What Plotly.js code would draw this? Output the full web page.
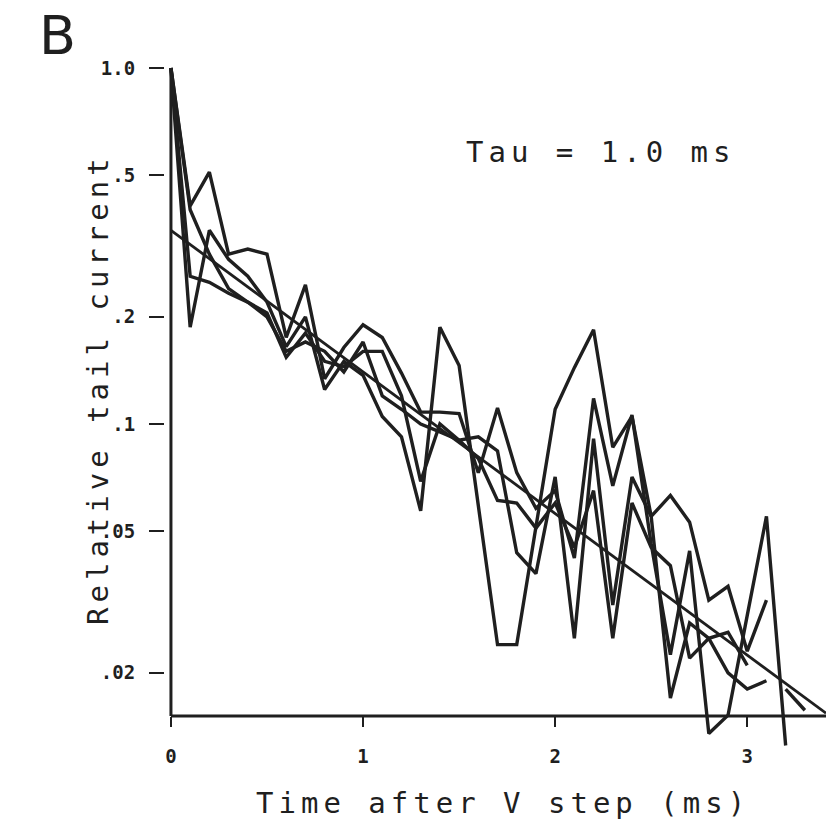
<!DOCTYPE html>
<html><head><meta charset="utf-8">
<script src="https://cdn.plot.ly/plotly-3.0.1.min.js"></script>
<style>html,body{margin:0;padding:0;background:#fff}</style>
</head><body>
<div id="chart" style="width:826px;height:828px"></div>
<script>
// ---- data ----
const timeMs = [0,0.1,0.2,0.3,0.4,0.5,0.6,0.7,0.8,0.9,1.0,1.1,1.2,1.3,1.4,1.5,1.6,1.7,1.8,1.9,2.0,2.1,2.2,2.3,2.4,2.5,2.6,2.7,2.8,2.9,3.0,3.1,3.2,3.3];
const sweep1 = [1.0,0.187,0.35,0.29,0.26,0.22,0.165,0.20,0.125,0.15,0.137,0.105,0.092,0.057,0.187,0.146,0.059,0.024,0.024,0.051,0.11,0.144,0.184,0.086,0.105,0.055,0.063,0.053,0.032,0.035,0.023,0.032];
const sweep2 = [1.0,0.41,0.51,0.30,0.31,0.30,0.175,0.246,0.134,0.164,0.19,0.175,0.139,0.108,0.108,0.107,0.073,0.111,0.073,0.058,0.065,0.042,0.118,0.067,0.106,0.046,0.0225,0.044,0.0135,0.0152,0.029,0.055,0.0125];
const sweep3 = [1.0,0.40,0.30,0.24,0.22,0.205,0.154,0.18,0.15,0.145,0.16,0.16,0.12,0.069,0.10,0.09,0.092,0.084,0.0435,0.038,0.071,0.025,0.091,0.031,0.071,0.055,0.017,0.0276,0.025,0.02,0.018,0.019];
const sweep4 = [1.0,0.26,0.25,0.233,0.22,0.20,0.16,0.17,0.16,0.14,0.17,0.12,0.11,0.10,0.095,0.09,0.08,0.061,0.06,0.051,0.06,0.045,0.065,0.025,0.06,0.045,0.04,0.022,0.025,0.026,0.021,null,0.018,0.0157];
const fitTime = [0, 3.41];
const fitCurrent = [0.35, 0.0154];
const yTickVals = [1, 0.5, 0.2, 0.1, 0.05, 0.02];
const yTickText = ['1.0', '.5', '.2', '.1', '.05', '.02'];
const xTickVals = [0, 1, 2, 3];
const xTickText = ['0', '1', '2', '3'];

// ---- layout geometry ----
const W = 826, H = 828;
const L = 165, R = 0, T = 62, B = 78;
const plotW = W - L - R, plotH = H - T - B;
const px = v => (v - L) / plotW;
const py = v => (H - B - v) / plotH;
const ink = '#1f1f1f';
const mono = 'DejaVu Sans Mono, monospace';

const sweeps = [sweep1, sweep2, sweep3, sweep4];
const traces = sweeps.map(s => ({
  x: timeMs.slice(0, s.length), y: s, type: 'scatter', mode: 'lines',
  line: {color: ink, width: 3.4}, connectgaps: false, hoverinfo: 'skip'
}));
traces.push({x: fitTime, y: fitCurrent, type: 'scatter', mode: 'lines',
  line: {color: ink, width: 2.8}, hoverinfo: 'skip'});

const axisPos = py(716);
const layout = {
  width: W, height: H, showlegend: false,
  margin: {l: L, r: R, t: T, b: B},
  paper_bgcolor: '#fff', plot_bgcolor: '#fff',
  xaxis: {range: [-0.031, 3.41], anchor: 'free', position: axisPos,
    showgrid: false, zeroline: false, showline: false,
    tickvals: xTickVals, ticktext: xTickText, ticks: 'outside', ticklen: 10, tickwidth: 2, tickcolor: ink,
    ticklabelstandoff: 13,
    tickfont: {family: mono, size: 19, color: ink, weight: 'bold'}},
  xaxis2: {range: [-0.031, 3.41], overlaying: 'x', anchor: 'free', position: axisPos,
    showgrid: false, zeroline: false, showline: false, showticklabels: false,
    tickvals: xTickVals, ticks: 'inside', ticklen: 7, tickwidth: 2, tickcolor: ink},
  yaxis: {type: 'log', range: [-(750 - 68) / 356, (68 - 62) / 356],
    showgrid: false, zeroline: false, showline: false,
    tickvals: yTickVals, ticktext: yTickText, ticks: 'outside', ticklen: 15, tickwidth: 2, tickcolor: ink,
    ticklabelstandoff: 10,
    tickfont: {family: mono, size: 19, color: ink, weight: 'bold'}},
  shapes: [
    {type: 'line', xref: 'x', yref: 'paper', x0: 0, x1: 0, y0: axisPos, y1: py(68), line: {color: ink, width: 3}},
    {type: 'line', xref: 'x', yref: 'paper', x0: 0, x1: 3.41, y0: axisPos, y1: axisPos, line: {color: ink, width: 3}}
  ],
  annotations: [
    {text: 'B', xref: 'paper', yref: 'paper', x: px(57), y: py(35), xanchor: 'center', yanchor: 'middle',
     showarrow: false, font: {family: 'DejaVu Sans, sans-serif', size: 54, color: ink}},
    {text: '<span style="letter-spacing:5px">Tau = 1.0 ms</span>', xref: 'paper', yref: 'paper', x: px(601), y: py(152),
     xanchor: 'center', yanchor: 'middle', showarrow: false, font: {family: mono, size: 29, color: ink}},
    {text: '<span style="letter-spacing:5px">Time after V step (ms)</span>', xref: 'paper', yref: 'paper', x: px(503), y: py(803),
     xanchor: 'center', yanchor: 'middle', showarrow: false, font: {family: mono, size: 29, color: ink}},
    {text: '<span style="letter-spacing:5px">Relative tail current</span>', xref: 'paper', yref: 'paper', x: px(98), y: py(389),
     xanchor: 'center', yanchor: 'middle', textangle: -90, showarrow: false, font: {family: mono, size: 29, color: ink}}
  ]
};
Plotly.newPlot('chart', traces, layout, {displayModeBar: false, staticPlot: true});
</script>
</body></html>
